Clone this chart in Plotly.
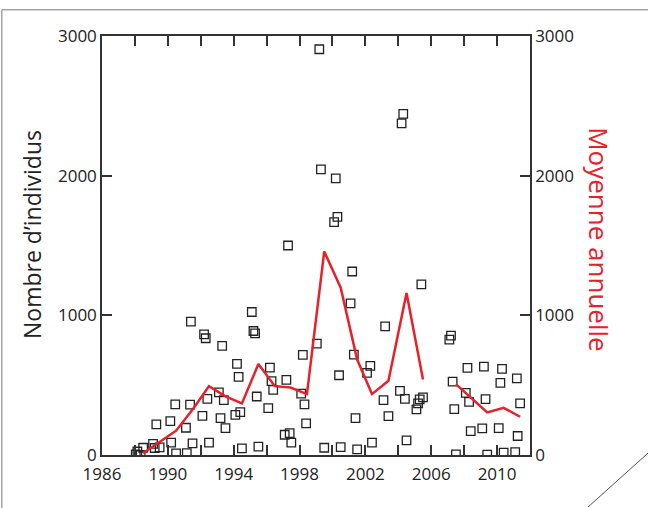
import plotly.graph_objects as go

# ---- data ----
obs_year = [
    1988.05, 1988.15, 1988.35, 1988.5,
    1989.1, 1989.2, 1989.3, 1989.5,
    1990.15, 1990.2, 1990.45, 1990.5,
    1991.1, 1991.15, 1991.35, 1991.4, 1991.5,
    1992.1, 1992.2, 1992.3, 1992.4, 1992.5,
    1993.1, 1993.2, 1993.3, 1993.4, 1993.5,
    1994.1, 1994.2, 1994.3, 1994.4, 1994.5,
    1995.1, 1995.2, 1995.3, 1995.4, 1995.5,
    1996.1, 1996.2, 1996.3, 1996.4,
    1997.1, 1997.2, 1997.3, 1997.4, 1997.5,
    1998.1, 1998.2, 1998.3, 1998.4,
    1999.05, 1999.2, 1999.3, 1999.5,
    2000.1, 2000.2, 2000.3, 2000.4, 2000.5,
    2001.1, 2001.2, 2001.3, 2001.4, 2001.5,
    2002.1, 2002.3, 2002.4,
    2003.1, 2003.2, 2003.4,
    2004.1, 2004.2, 2004.3, 2004.4, 2004.5,
    2005.1, 2005.2, 2005.3, 2005.4, 2005.5,
    2007.1, 2007.2, 2007.3, 2007.4, 2007.5,
    2008.1, 2008.2, 2008.3, 2008.4,
    2009.1, 2009.2, 2009.3, 2009.4,
    2010.1, 2010.2, 2010.3, 2010.4,
    2011.1, 2011.2, 2011.25, 2011.4,
]
obs_count = [
    5, 25, 0, 52,
    80, 50, 219, 55,
    243, 88, 362, 12,
    195, 14, 360, 955, 83,
    280, 864, 836, 402, 88,
    448, 264, 781, 393, 193,
    288, 652, 560, 307, 48,
    1024, 888, 871, 419, 60,
    336, 626, 529, 467,
    145, 538, 1500, 157, 88,
    440, 717, 362, 226,
    798, 2905, 2045, 52,
    1667, 1981, 1705, 571, 57,
    1086, 1314, 719, 264, 40,
    588, 638, 88,
    393, 921, 279,
    459, 2374, 2443, 402, 105,
    326, 369, 398, 1221, 412,
    826, 855, 526, 329, 5,
    445, 624, 381, 171,
    190, 633, 400, 2,
    193, 516, 617, 17,
    21, 548, 136, 369,
]

mean_year = [1988.5, 1990.5, 1991.55, 1992.5, 1993.5, 1994.5, 1995.5, 1996.5,
             1997.45, 1998.45, 1999.5, 2000.5, 2001.5, 2002.4, 2003.4, 2004.5,
             2005.5, 2006.5, 2007.5, 2008.45, 2009.4, 2010.4, 2011.4]
mean_value = [12, 174, 333, 493, 420, 369, 652, 493,
              483, 436, 1457, 1198, 683, 436, 531, 1160,
              540, None, 507, 405, 305, 338, 274]

x_tick_vals = list(range(1986, 2013, 2))
x_tick_text = [str(v) if (v - 1986) % 4 == 0 else "" for v in x_tick_vals]
y_tick_vals = [0, 1000, 2000, 3000]

left_title = "Nombre d’individus"
right_title = "Moyenne annuelle"

AX = "#333333"
RED = "#e8202a"
FONT = "Open Sans"

fig = go.Figure()
fig.add_trace(go.Scatter(
    x=obs_year, y=obs_count, mode="markers",
    marker=dict(symbol="square-open", size=8.5, color="#222222",
                line=dict(width=1.3, color="#222222")),
    showlegend=False, hoverinfo="x+y",
))
fig.add_trace(go.Scatter(
    x=mean_year, y=mean_value, mode="lines", yaxis="y2",
    line=dict(color=RED, width=2.5), connectgaps=False,
    showlegend=False,
))

axis_common = dict(
    showgrid=False, zeroline=False, ticks="inside", ticklen=10, tickwidth=1.5,
    tickcolor=AX, showline=True, linecolor=AX, linewidth=1.5,
    tickfont=dict(family=FONT, size=17, color="#222222"),
)

fig.update_layout(
    width=648, height=508,
    margin=dict(l=102, r=118, t=36, b=53),
    paper_bgcolor="white", plot_bgcolor="white",
    xaxis=dict(range=[1986, 2012], tickmode="array", tickvals=x_tick_vals,
               ticktext=x_tick_text, mirror="ticks", ticklabelstandoff=3,
               **axis_common),
    yaxis=dict(range=[0, 3000], tickmode="array", tickvals=y_tick_vals,
               mirror=True, **axis_common),
    yaxis2=dict(range=[0, 3000], tickmode="array", tickvals=y_tick_vals,
                overlaying="y", side="right", **axis_common),
    annotations=[
        dict(text=left_title, xref="paper", yref="paper", x=-0.164, y=0.527,
             textangle=-90, showarrow=False, xanchor="center", yanchor="middle",
             font=dict(family=FONT, size=23, color="#222222")),
        dict(text=right_title, xref="paper", yref="paper", x=1.161, y=0.513,
             textangle=90, showarrow=False, xanchor="center", yanchor="middle",
             font=dict(family=FONT, size=26, color=RED)),
    ],
    shapes=[
        dict(type="line", xref="paper", yref="paper", x0=-0.234, x1=1.28,
             y0=1.0625, y1=1.0625, line=dict(color="#777777", width=1)),
        dict(type="line", xref="paper", yref="paper", x0=-0.234, x1=-0.234,
             y0=1.0625, y1=-0.13, line=dict(color="#777777", width=1)),
        dict(type="line", xref="paper", yref="paper", x0=1.1357, x1=1.276,
             y0=-0.124, y1=0.0048, line=dict(color="#555555", width=1)),
    ],
)

fig.write_html("out.html", config={"displayModeBar": False},
               post_script="document.body.style.margin='0';")
